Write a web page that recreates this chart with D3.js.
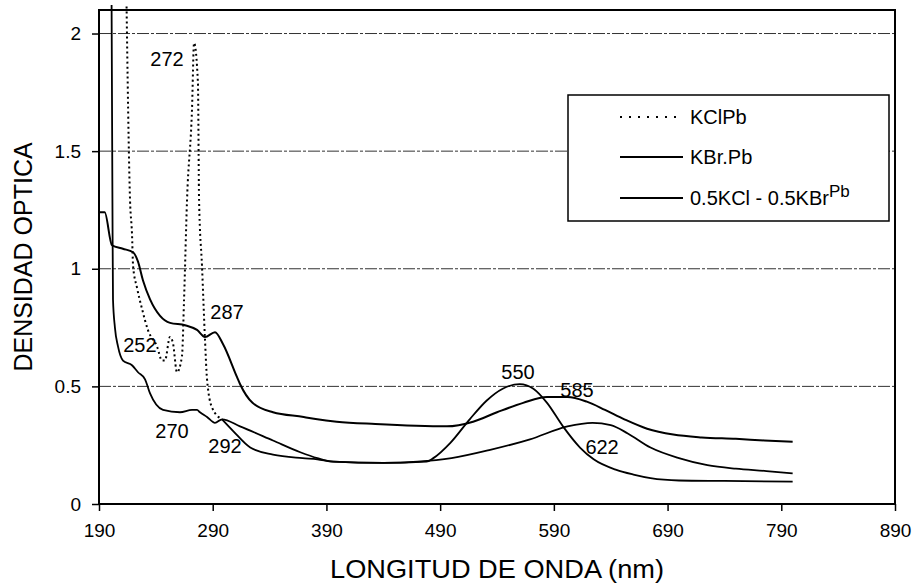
<!DOCTYPE html>
<html>
<head>
<meta charset="utf-8">
<script src="https://cdn.jsdelivr.net/npm/d3@7"></script>
<style>
  body { margin: 0; background: #fff; }
  svg { font-family: "Liberation Sans", Arial, sans-serif; }
</style>
</head>
<body>
<script>
// Tick values
const wavelengthTicks = [190, 290, 390, 490, 590, 690, 790, 890];
const densityTicks = [0, 0.5, 1, 1.5, 2];

// KCl:Pb (dotted in the UV part)
const kclNm = [214, 217.3, 219, 220, 223.4, 227.8, 233, 241, 245.4, 248, 252.4, 255, 258.6, 263, 264.8, 267.4,
  271.8, 273.6, 277, 278, 280.6, 283.2, 285, 289.4, 298.2, 308, 323, 343, 369, 382, 396, 440, 478, 484,
  499, 516, 531, 545, 560, 572, 584, 598, 613, 625, 645, 660, 675, 700, 740, 800];
const kclOd = [2.2, 1.29, 1.15, 1.01, 0.92, 0.83, 0.74, 0.67, 0.61, 0.61, 0.71, 0.685, 0.56, 0.63, 0.87, 1.29,
  1.68, 1.96, 1.79, 1.29, 1.01, 0.70, 0.53, 0.41, 0.36, 0.31, 0.24, 0.21, 0.195, 0.19, 0.18, 0.175, 0.18, 0.195,
  0.26, 0.36, 0.44, 0.49, 0.51, 0.49, 0.43, 0.33, 0.24, 0.19, 0.145, 0.125, 0.11, 0.10, 0.098, 0.095];

// KBr:Pb
const kbrNm = [201, 201.8, 202.3, 204, 206.7, 211.1, 219, 224.3, 230.5, 234.9, 246.3, 261.2, 271.8, 276.2, 278.8,
  285, 292, 298.2, 314, 343, 367, 382, 396, 440, 470, 500, 534, 569, 602, 624, 640, 655, 675, 700, 725,
  750, 777, 800];
const kbrOd = [2.2, 1.3, 0.87, 0.75, 0.67, 0.61, 0.59, 0.56, 0.53, 0.47, 0.40, 0.39, 0.40, 0.40, 0.39,
  0.37, 0.345, 0.36, 0.33, 0.27, 0.22, 0.195, 0.18, 0.175, 0.18, 0.195, 0.23, 0.275, 0.33, 0.345, 0.335, 0.30,
  0.24, 0.195, 0.165, 0.15, 0.14, 0.13];

// 0.5KCl - 0.5KBr:Pb
const mixNm = [190.5, 195, 201.4, 211, 220, 224.3, 228.7, 234.9, 243.7, 252.5, 265.7, 276.2, 283.2, 292, 299,
  311.3, 314, 325, 343, 370, 382, 399, 433, 496, 519, 540, 563, 584, 602, 619, 635, 652, 672, 695, 720, 750,
  775, 800];
const mixOd = [1.24, 1.24, 1.10, 1.085, 1.07, 1.03, 0.95, 0.87, 0.80, 0.77, 0.76, 0.74, 0.71, 0.73, 0.68,
  0.54, 0.51, 0.43, 0.39, 0.37, 0.36, 0.35, 0.34, 0.33, 0.35, 0.39, 0.43, 0.455, 0.455, 0.435, 0.40, 0.36,
  0.32, 0.295, 0.283, 0.277, 0.27, 0.265];

// Peak labels
const peakText = ["272", "287", "252", "270", "292", "550", "585", "622"];
const peakNm = [249.8, 302.6, 226, 254.2, 300.8, 558.5, 610.4, 632.4];
const peakOd = [1.89, 0.816, 0.676, 0.31, 0.247, 0.561, 0.485, 0.242];

const legendNames = ["KClPb", "KBr.Pb", "0.5KCl - 0.5KBr"];

const width = 917, height = 585;
const plot = { left: 99, right: 895, top: 10, bottom: 504 };

const svg = d3.select("body").append("svg")
  .attr("width", width)
  .attr("height", height);

const x = d3.scaleLinear().domain([190, 890]).range([plot.left, plot.right]);
const y = d3.scaleLinear().domain([0, 2.1]).range([plot.bottom, plot.top]);

// Grid lines
svg.append("g")
  .selectAll("line")
  .data(densityTicks.filter(d => d > 0))
  .join("line")
  .attr("x1", plot.left).attr("x2", plot.right)
  .attr("y1", d => y(d)).attr("y2", d => y(d))
  .attr("stroke", "#333")
  .attr("stroke-width", 1)
  .attr("stroke-dasharray", "12,2,3,2");

// Axes
const xAxis = svg.append("g")
  .attr("transform", `translate(0,${plot.bottom})`)
  .call(d3.axisBottom(x).tickValues(wavelengthTicks).tickSize(7).tickPadding(13).tickFormat(d3.format("d")));
const yAxis = svg.append("g")
  .attr("transform", `translate(${plot.left},0)`)
  .call(d3.axisLeft(y).tickValues(densityTicks).tickSize(7).tickPadding(11).tickFormat(d => String(d)));

for (const ax of [xAxis, yAxis]) {
  ax.select(".domain").remove();
  ax.selectAll(".tick line").attr("stroke", "#000").attr("stroke-width", 1.5);
  ax.selectAll(".tick text").attr("fill", "#000").attr("font-size", 19).attr("font-family", "Liberation Sans, Arial, sans-serif");
}

// Plot frame
svg.append("rect")
  .attr("x", plot.left).attr("y", plot.top)
  .attr("width", plot.right - plot.left).attr("height", plot.bottom - plot.top)
  .attr("fill", "none").attr("stroke", "#000").attr("stroke-width", 2);

// Curves
svg.append("clipPath").attr("id", "clip")
  .append("rect")
  .attr("x", plot.left).attr("y", plot.top - 5)
  .attr("width", plot.right - plot.left).attr("height", plot.bottom - plot.top + 5);

const line = d3.line()
  .x(d => x(d[0]))
  .y(d => y(d[1]))
  .curve(d3.curveMonotoneX);

const kcl = d3.zip(kclNm, kclOd);
const kbr = d3.zip(kbrNm, kbrOd);
const mix = d3.zip(mixNm, mixOd);

const curves = svg.append("g").attr("clip-path", "url(#clip)")
  .attr("fill", "none").attr("stroke", "#000");

// dots only show on the steep UV part of KCl:Pb, the rest reads as solid
curves.append("path").attr("d", line(kcl.filter(d => d[0] <= 298.2)))
  .attr("stroke-width", 2).attr("stroke-dasharray", "2,3");
curves.append("path").attr("d", line(kcl.filter(d => d[0] >= 298.2)))
  .attr("stroke-width", 1.8);
curves.append("path").attr("d", line(kbr)).attr("stroke-width", 1.8);
curves.append("path").attr("d", line(mix)).attr("stroke-width", 2);

// Peak labels
svg.append("g")
  .selectAll("text")
  .data(peakText)
  .join("text")
  .attr("x", (d, i) => x(peakNm[i]))
  .attr("y", (d, i) => y(peakOd[i]))
  .attr("text-anchor", "middle")
  .attr("dominant-baseline", "central")
  .attr("font-size", 20)
  .text(d => d);

// Axis titles
svg.append("text")
  .attr("x", (plot.left + plot.right) / 2)
  .attr("y", 578)
  .attr("text-anchor", "middle")
  .attr("font-size", 26)
  .attr("textLength", 334)
  .attr("lengthAdjust", "spacingAndGlyphs")
  .text("LONGITUD DE ONDA (nm)");

svg.append("text")
  .attr("transform", `translate(32,${(plot.top + plot.bottom) / 2}) rotate(-90)`)
  .attr("text-anchor", "middle")
  .attr("font-size", 25)
  .text("DENSIDAD OPTICA");

// Legend
const legend = svg.append("g");
legend.append("rect")
  .attr("x", 568).attr("y", 95).attr("width", 321).attr("height", 126)
  .attr("fill", "#fff").attr("stroke", "#000").attr("stroke-width", 1.5);

const legendRows = [117, 157, 198];
legendNames.forEach((name, i) => {
  legend.append("line")
    .attr("x1", 620).attr("x2", 683)
    .attr("y1", legendRows[i]).attr("y2", legendRows[i])
    .attr("stroke", "#000")
    .attr("stroke-width", i === 0 ? 2 : 1.8)
    .attr("stroke-dasharray", i === 0 ? "2,7" : null);
  const t = legend.append("text")
    .attr("x", 690).attr("y", legendRows[i])
    .attr("dominant-baseline", "central")
    .attr("font-size", 20)
    .text(name);
  if (i === 2) {
    t.append("tspan").attr("dy", -7).attr("font-size", 17).text("Pb");
  }
});
</script>
</body>
</html>
